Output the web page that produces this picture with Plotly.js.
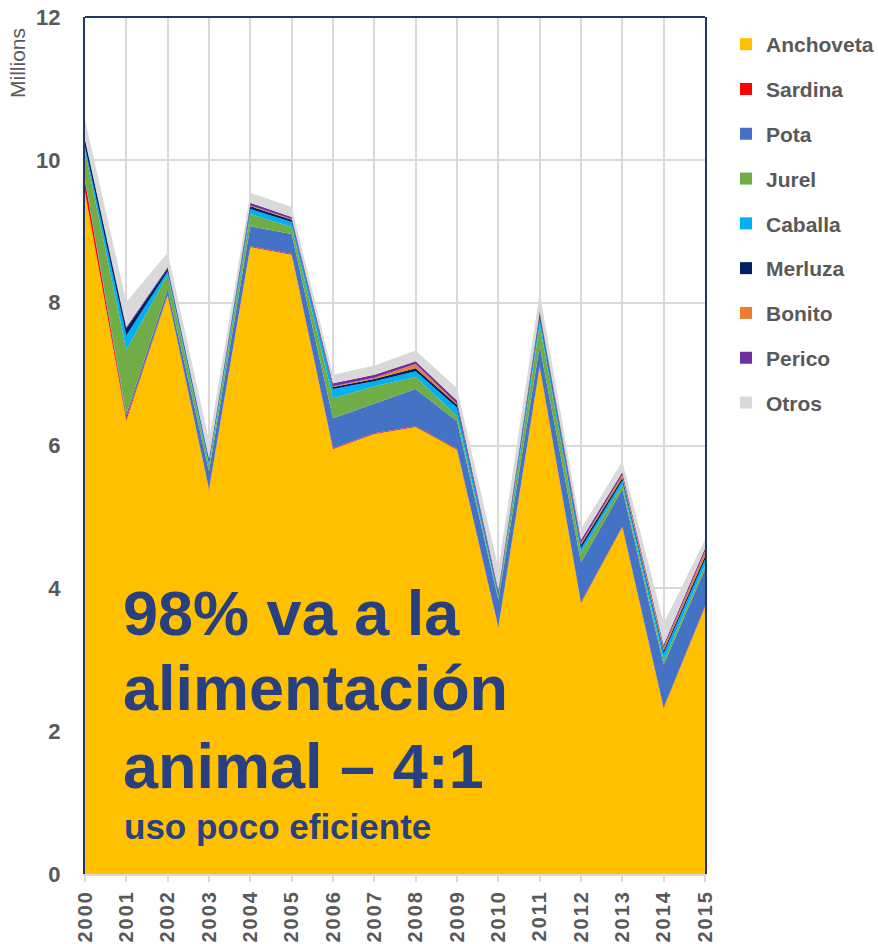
<!DOCTYPE html>
<html>
<head>
<meta charset="utf-8">
<script src="https://cdn.plot.ly/plotly-3.0.1.min.js"></script>
<style>
  html, body { margin: 0; padding: 0; background: #fff; }
  #chart { width: 878px; height: 944px; }
  .xtick text { letter-spacing: 2px; }
</style>
</head>
<body>
<div id="chart"></div>
<script>
// Years (categories / x tick labels)
const years = ["2000","2001","2002","2003","2004","2005","2006","2007","2008","2009","2010","2011","2012","2013","2014","2015"];

// Series values (millions of tonnes), bottom to top of the stack
const anchoveta = [9.55, 6.35, 8.10, 5.38, 8.78, 8.67, 5.95, 6.16, 6.26, 5.94, 3.45, 7.10, 3.79, 4.86, 2.32, 3.74];
const sardina   = [0.15, 0.04, 0.01, 0.01, 0.01, 0.01, 0.01, 0.01, 0.01, 0.01, 0.01, 0.01, 0.01, 0.01, 0.01, 0.01];
const pota      = [0.02, 0.05, 0.08, 0.25, 0.28, 0.28, 0.42, 0.41, 0.52, 0.39, 0.38, 0.28, 0.56, 0.52, 0.60, 0.52];
const jurel     = [0.40, 0.90, 0.20, 0.08, 0.17, 0.10, 0.28, 0.25, 0.17, 0.07, 0.03, 0.30, 0.14, 0.06, 0.06, 0.05];
const caballa   = [0.06, 0.20, 0.05, 0.05, 0.07, 0.07, 0.13, 0.07, 0.08, 0.12, 0.03, 0.10, 0.06, 0.06, 0.10, 0.08];
const merluza   = [0.10, 0.10, 0.04, 0.03, 0.04, 0.03, 0.03, 0.03, 0.04, 0.04, 0.03, 0.05, 0.05, 0.04, 0.04, 0.05];
const bonito    = [0.00, 0.00, 0.00, 0.00, 0.01, 0.01, 0.01, 0.02, 0.06, 0.01, 0.01, 0.02, 0.02, 0.04, 0.04, 0.07];
const perico    = [0.01, 0.02, 0.02, 0.02, 0.04, 0.03, 0.04, 0.04, 0.04, 0.05, 0.04, 0.03, 0.05, 0.04, 0.04, 0.04];
const otros     = [0.27, 0.35, 0.20, 0.25, 0.14, 0.14, 0.12, 0.13, 0.15, 0.17, 0.30, 0.25, 0.15, 0.15, 0.30, 0.12];

const seriesNames  = ["Anchoveta","Sardina","Pota","Jurel","Caballa","Merluza","Bonito","Perico","Otros"];
const seriesValues = [anchoveta, sardina, pota, jurel, caballa, merluza, bonito, perico, otros];
const seriesColors = ["#FFC000","#FF0000","#4472C4","#70AD47","#00B0F0","#002060","#ED7D31","#7030A0","#D9D9D9"];

const traces = [];
seriesNames.forEach((name, i) => {
  traces.push({
    type: "scatter",
    x: years,
    y: seriesValues[i],
    name: name,
    stackgroup: "one",
    mode: "lines",
    line: { width: 0, color: seriesColors[i] },
    fillcolor: seriesColors[i],
    showlegend: false,
    hoverinfo: "x+y+name"
  });
});
// legend entries (square swatches)
seriesNames.forEach((name, i) => {
  traces.push({
    type: "scatter",
    x: [null],
    y: [null],
    name: name,
    mode: "markers",
    marker: { symbol: "square", size: 12, color: seriesColors[i] },
    legendgroup: "g" + i,
    showlegend: true,
    hoverinfo: "skip"
  });
});

const grey = "#595959";
const navy = "#1F3864";
const textBlue = "#28407F";
const fam = "Liberation Sans, Arial, sans-serif";

// plot area in pixels: left 85, right 705, top 17, bottom 874
const px = x => (x - 85) / 620;
const py = y => (874 - y) / 857;

const layout = {
  width: 878,
  height: 944,
  margin: { l: 85, r: 173, t: 17, b: 70, pad: 0, autoexpand: false },
  paper_bgcolor: "#ffffff",
  plot_bgcolor: "#ffffff",
  font: { family: fam, color: grey },
  showlegend: true,
  legend: {
    x: px(726), xanchor: "left",
    y: py(24), yanchor: "top",
    traceorder: "grouped",
    tracegroupgap: 14.5,
    font: { family: fam, size: 21, color: grey, weight: "bold" },
    bgcolor: "rgba(0,0,0,0)",
    itemclick: false
  },
  xaxis: {
    type: "category",
    range: [0, 15],
    showgrid: true,
    gridcolor: "#D9D9D9",
    gridwidth: 2,
    showline: true,
    linecolor: "#D9D9D9",
    linewidth: 2,
    ticks: "outside",
    ticklen: 6,
    tickwidth: 2,
    tickcolor: "#D9D9D9",
    tickangle: -90,
    tickfont: { family: fam, size: 20, color: grey, weight: "bold" },
    zeroline: false,
    fixedrange: true
  },
  yaxis: {
    range: [0, 12],
    dtick: 2,
    tick0: 0,
    showgrid: true,
    gridcolor: "#D9D9D9",
    gridwidth: 2,
    showline: true,
    mirror: true,
    linecolor: navy,
    linewidth: 2,
    ticks: "outside",
    ticklen: 18,
    tickcolor: "rgba(0,0,0,0)",
    tickfont: { family: fam, size: 22, color: grey, weight: "bold" },
    zeroline: false,
    fixedrange: true
  },
  shapes: [
    { type: "line", xref: "paper", yref: "paper", x0: 0, x1: 1, y0: 1, y1: 1,
      line: { color: navy, width: 2 } }
  ],
  annotations: [
    { text: "Millions", xref: "paper", yref: "paper", x: px(18), y: py(63),
      xanchor: "center", yanchor: "middle", textangle: -90, showarrow: false,
      font: { family: fam, size: 21, color: grey } },
    { text: "98% va a la", xref: "paper", yref: "paper", x: px(121), y: py(613),
      xanchor: "left", yanchor: "middle", showarrow: false,
      font: { family: fam, size: 63, color: textBlue, weight: "bold" } },
    { text: "alimentación", xref: "paper", yref: "paper", x: px(121), y: py(688),
      xanchor: "left", yanchor: "middle", showarrow: false,
      font: { family: fam, size: 63, color: textBlue, weight: "bold" } },
    { text: "animal – 4:1", xref: "paper", yref: "paper", x: px(121), y: py(766),
      xanchor: "left", yanchor: "middle", showarrow: false,
      font: { family: fam, size: 63, color: textBlue, weight: "bold" } },
    { text: "uso poco eficiente", xref: "paper", yref: "paper", x: px(122), y: py(826),
      xanchor: "left", yanchor: "middle", showarrow: false,
      font: { family: fam, size: 35, color: textBlue, weight: "bold" } }
  ]
};

Plotly.newPlot("chart", traces, layout, { displayModeBar: false, staticPlot: true });
</script>
</body>
</html>
